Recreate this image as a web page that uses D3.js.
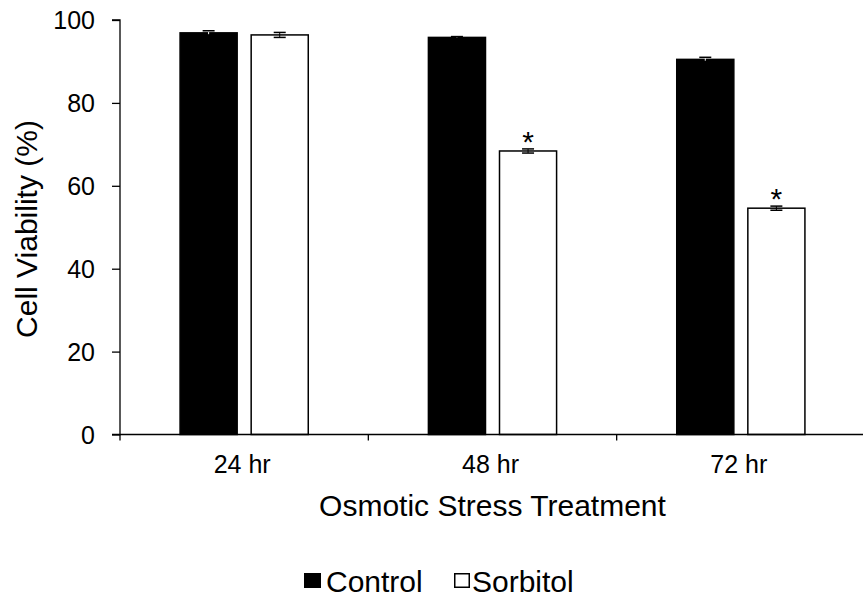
<!DOCTYPE html>
<html lang="en">
<head>
<meta charset="utf-8">
<title>Cell Viability under Osmotic Stress</title>
<style>
  body { margin: 0; padding: 0; background: #fff; }
  svg text { font-family: "Liberation Sans", Arial, sans-serif; fill: #000; }
</style>
</head>
<body>
<div id="chart"></div>
<script src="https://d3js.org/d3.v7.min.js"></script>
<script>
  // chart data
  const categories = ["24 hr", "48 hr", "72 hr"];
  const seriesNames = ["Control", "Sorbitol"];
  const controlValues = [96.9, 95.8, 90.5];
  const sorbitolValues = [96.4, 68.4, 54.6];
  const controlErrors = [0.5, 0.2, 0.5];
  const sorbitolErrors = [0.6, 0.5, 0.5];
  const significant = [false, true, true]; // asterisk on sorbitol bars
  const yTicks = [0, 20, 40, 60, 80, 100];

  const width = 863, height = 599;
  const margin = { top: 20, right: -2, bottom: 164.5, left: 120 };
  const innerW = width - margin.left - margin.right;
  const innerH = height - margin.top - margin.bottom;

  const svg = d3.select("#chart").append("svg")
    .attr("width", width)
    .attr("height", height);

  const g = svg.append("g").attr("transform", `translate(${margin.left},${margin.top})`);

  const x = d3.scaleBand().domain(categories).range([0, innerW]).padding(0);
  const xInner = d3.scaleBand().domain(seriesNames).range([0, x.bandwidth()])
    .paddingInner(0.197).paddingOuter(0.845);
  const y = d3.scaleLinear().domain([0, 100]).range([innerH, 0]);

  const colors = { Control: "#000", Sorbitol: "#fff" };

  const rows = categories.map((c, i) => ({
    cat: c,
    bars: [
      { name: "Control", value: controlValues[i], err: controlErrors[i], star: false },
      { name: "Sorbitol", value: sorbitolValues[i], err: sorbitolErrors[i], star: significant[i] }
    ]
  }));

  const groups = g.selectAll(".grp").data(rows).enter().append("g")
    .attr("transform", d => `translate(${x(d.cat)},0)`);

  const bars = groups.selectAll(".bar").data(d => d.bars).enter().append("g");

  bars.append("rect")
    .attr("x", d => xInner(d.name))
    .attr("y", d => y(d.value))
    .attr("width", xInner.bandwidth())
    .attr("height", d => innerH - y(d.value))
    .attr("fill", d => colors[d.name])
    .attr("stroke", "#000")
    .attr("stroke-width", 1.5);

  // error bars
  const cap = 6;
  const cx = d => xInner(d.name) + xInner.bandwidth() / 2;
  bars.append("line")
    .attr("x1", cx).attr("x2", cx)
    .attr("y1", d => y(d.value + d.err))
    .attr("y2", d => y(d.value - d.err))
    .attr("stroke", d => d.name === "Control" ? "#fff" : "#000")
    .attr("stroke-width", 1);
  bars.selectAll(".cap").data(d => [d.value + d.err, d.value - d.err].map(v => ({ v, d })))
    .enter().append("line")
    .attr("x1", o => cx(o.d) - cap)
    .attr("x2", o => cx(o.d) + cap)
    .attr("y1", o => y(o.v))
    .attr("y2", o => y(o.v))
    .attr("stroke", "#000")
    .attr("stroke-width", 1.5);

  // significance asterisks
  bars.filter(d => d.star).append("text")
    .attr("x", cx)
    .attr("y", d => y(d.value + d.err) + 3)
    .attr("text-anchor", "middle")
    .attr("font-size", 30)
    .text("*");

  // y axis
  const yAxis = g.append("g")
    .call(d3.axisLeft(y).tickValues(yTicks).tickSize(8).tickPadding(17));
  yAxis.select(".domain").attr("stroke", "#000").attr("stroke-width", 1.3)
    .attr("d", `M-8,0H0V${innerH}H-8`);
  yAxis.selectAll(".tick line").attr("stroke", "#000").attr("stroke-width", 1.3);
  yAxis.selectAll(".tick text")
    .attr("font-size", 25)
    .attr("font-family", "'Liberation Sans', Arial, sans-serif")
    .attr("dy", "0.35em");

  // x axis with boundary ticks between groups
  const xAxis = g.append("g").attr("transform", `translate(0,${innerH})`);
  xAxis.append("line")
    .attr("x1", 0).attr("x2", innerW)
    .attr("stroke", "#000").attr("stroke-width", 1.3);
  const bounds = categories.map(c => x(c)).concat([x(categories[categories.length - 1]) + x.bandwidth()]);
  xAxis.selectAll(".bt").data(bounds).enter().append("line")
    .attr("x1", d => d).attr("x2", d => d)
    .attr("y1", 0).attr("y2", 6)
    .attr("stroke", "#000").attr("stroke-width", 1.3);
  xAxis.selectAll(".xl").data(categories).enter().append("text")
    .attr("x", d => x(d) + x.bandwidth() / 2 - 2)
    .attr("y", 38.5)
    .attr("text-anchor", "middle")
    .attr("font-size", 25)
    .text(d => d);

  // axis titles
  svg.append("text")
    .attr("transform", "translate(37,229) rotate(-90)")
    .attr("text-anchor", "middle")
    .attr("font-size", 30)
    .text("Cell Viability (%)");
  svg.append("text")
    .attr("x", margin.left + x.bandwidth() * 1.5)
    .attr("y", 516)
    .attr("text-anchor", "middle")
    .attr("font-size", 30)
    .text("Osmotic Stress Treatment");

  // legend
  const legendX = [304, 454];
  const li = svg.append("g").attr("transform", "translate(0,573)")
    .selectAll(".li").data(seriesNames).enter().append("g")
    .attr("transform", (d, i) => `translate(${legendX[i]},0)`);
  li.append("rect")
    .attr("x", (d, i) => i === 0 ? 0 : 0.75)
    .attr("y", (d, i) => i === 0 ? 0 : 0.75)
    .attr("width", (d, i) => i === 0 ? 17 : 14.5)
    .attr("height", (d, i) => i === 0 ? 15 : 13.5)
    .attr("fill", d => colors[d])
    .attr("stroke", "#000")
    .attr("stroke-width", (d, i) => i === 0 ? 0 : 1.5);
  li.append("text")
    .attr("x", (d, i) => i === 0 ? 22 : 18)
    .attr("y", 19)
    .attr("font-size", 30)
    .text(d => d);
</script>
</body>
</html>
